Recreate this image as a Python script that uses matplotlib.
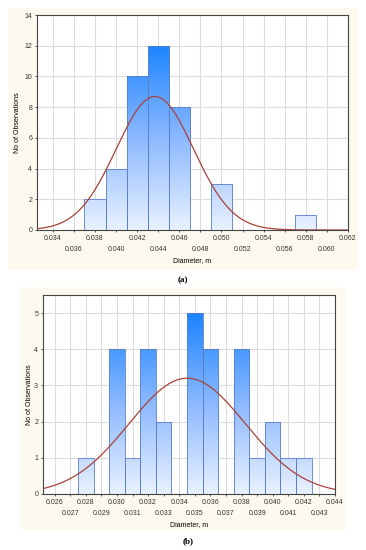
import numpy as np
import matplotlib.pyplot as plt
from matplotlib.colors import LinearSegmentedColormap
from matplotlib.patches import Rectangle

# panel (a)
a_centers = [0.038, 0.040, 0.042, 0.044, 0.046, 0.048, 0.050, 0.052, 0.054, 0.056, 0.058]
a_counts = [2, 4, 10, 12, 8, 0, 3, 0, 0, 0, 1]
a_ticks = [0.034, 0.036, 0.038, 0.040, 0.042, 0.044, 0.046, 0.048,
           0.050, 0.052, 0.054, 0.056, 0.058, 0.060, 0.062]
a_mean, a_sd, a_n, a_width = 0.04368, 0.00367, 40, 0.002

# panel (b)
b_centers = [0.028, 0.029, 0.030, 0.031, 0.032, 0.033, 0.034, 0.035,
             0.036, 0.037, 0.038, 0.039, 0.040, 0.041, 0.042]
b_counts = [1, 0, 4, 1, 4, 2, 0, 5, 4, 0, 4, 1, 2, 1, 1]
b_ticks = [0.026, 0.027, 0.028, 0.029, 0.030, 0.031, 0.032, 0.033, 0.034,
           0.035, 0.036, 0.037, 0.038, 0.039, 0.040, 0.041, 0.042, 0.043, 0.044]
b_mean, b_sd, b_n, b_width = 0.03451, 0.00374, 30, 0.001

plt.rcParams['font.family'] = ['Liberation Sans', 'DejaVu Sans']

cream = '#fdf9ee'
grid_c = '#dcdcdc'
curve_c = '#a8413a'
edge_c = '#5a7fc8'
grad = LinearSegmentedColormap.from_list('g', ['#e9f1ff', '#8cb9ff', '#1c84ff'])

fig = plt.figure(figsize=(3.66, 5.5), dpi=100)
W, H = 366.0, 550.0

def px_rect(x0, y0, x1, y1):
    return [x0 / W, 1 - y1 / H, (x1 - x0) / W, (y1 - y0) / H]

# cream backgrounds
for (x0, y0, x1, y1) in [(8, 8, 358, 270), (21, 287, 345, 530)]:
    r = px_rect(x0, y0, x1, y1)
    fig.patches.append(Rectangle((r[0], r[1]), r[2], r[3], transform=fig.transFigure,
                                 facecolor=cream, edgecolor='none', zorder=-5))


def histpanel(rect, centers, counts, ticks, mean, sd, n, width, xlim, ylim, yticks,
              fmt, ylabpad):
    ax = fig.add_axes(px_rect(*rect), zorder=2)
    ax.set_facecolor('white')
    ymax = max(counts)
    img = np.linspace(0, 1, 256).reshape(-1, 1)
    for c, h in zip(centers, counts):
        if h == 0:
            continue
        bar = ax.bar(c, h, width=width, facecolor='none', edgecolor=edge_c,
                     linewidth=0.6, zorder=3)[0]
        im = ax.imshow(img, cmap=grad, origin='lower', aspect='auto',
                       extent=[c - width / 2, c + width / 2, 0, ymax], zorder=2)
        im.set_clip_path(bar)
    x = np.linspace(xlim[0], xlim[1], 400)
    y = n * width / (sd * np.sqrt(2 * np.pi)) * np.exp(-(x - mean) ** 2 / (2 * sd ** 2))
    ax.plot(x, y, color=curve_c, linewidth=0.9, zorder=4)
    ax.set_xlim(*xlim)
    ax.set_ylim(*ylim)
    # alternate rows: upper row as major ticks, lower row as minor ticks
    ax.set_xticks(ticks[0::2])
    ax.set_xticklabels([fmt % t for t in ticks[0::2]])
    ax.set_xticks(ticks[1::2], minor=True)
    ax.set_xticklabels([fmt % t for t in ticks[1::2]], minor=True)
    ax.set_yticks(yticks)
    ax.grid(True, which='both', axis='x', color=grid_c, linewidth=0.8)
    ax.grid(True, axis='y', color=grid_c, linewidth=0.8)
    ax.set_axisbelow(True)
    ax.tick_params(which='both', labelsize=5, length=1.5, width=0.6, pad=2,
                   colors='#333333')
    ax.tick_params(axis='x', which='minor', pad=10)
    for s in ax.spines.values():
        s.set_color('#444444')
        s.set_linewidth(0.8)
    ax.set_xlabel('Diameter, m', fontsize=5, labelpad=3)
    ax.set_ylabel('No of Observations', fontsize=5, labelpad=ylabpad)
    return ax


ax1 = histpanel((37, 15, 348, 230), a_centers, a_counts, a_ticks, a_mean, a_sd, a_n,
                a_width, (0.0325, 0.062), (0, 14), range(0, 15, 2), '%.3f', 2)
ax2 = histpanel((43, 295, 335, 494), b_centers, b_counts, b_ticks, b_mean, b_sd, b_n,
                b_width, (0.02525, 0.044), (0, 5.5), range(0, 6), '%.3f', 1)

fig.text(183 / W, 1 - 280 / H, '(a)', fontsize=6.5, fontweight='bold',
         family='Liberation Serif', ha='center', va='center')
fig.text(188 / W, 1 - 541 / H, '(b)', fontsize=6.5, fontweight='bold',
         family='Liberation Serif', ha='center', va='center')

fig.savefig('out.png', dpi=100, facecolor='white')
